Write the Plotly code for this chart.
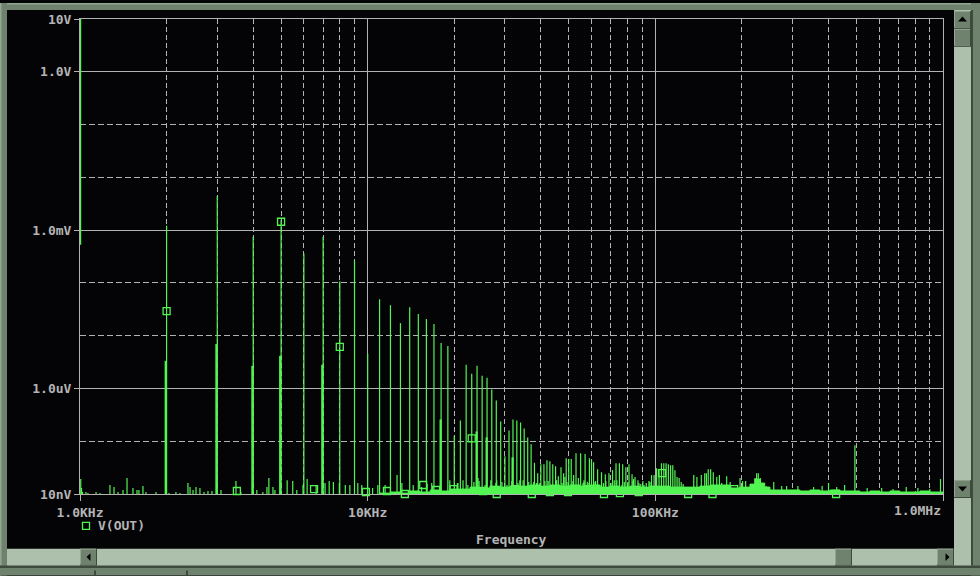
import plotly.graph_objects as go

# ---------------- data (frequency in kHz, magnitude in V) ----------------
fund_khz = [1.004]
fund_v = [12.0]
fund_base_v = [5.3e-4]

harm_khz = [2, 3, 4, 5, 6, 7, 8, 9, 10,
            11, 12, 13, 14, 15, 16, 17, 18, 19, 20,
            21, 22, 23, 24, 25, 26, 27, 28, 29, 30,
            31, 32, 33, 34, 35, 36, 37, 38, 39, 40,
            41, 42, 43, 44, 45, 46, 47, 48, 49, 50,
            51, 52, 53, 54, 55, 56, 57, 58, 59, 60,
            61, 63, 65, 67, 69, 71, 73, 75, 77, 79,
            81, 83, 85, 87, 89, 91, 93, 95, 97, 99,
            101, 103, 105, 107, 109, 111, 113, 115, 117, 119,
            121, 123, 125]
harm_v = [1.21e-3, 4.45e-3, 7.52e-4, 1.57e-3, 3.6e-4, 7.5e-4, 1.07e-4, 2.66e-4, 4.52e-6,
          4.9e-5, 3.78e-5, 1.73e-5, 3.46e-5, 2.56e-5, 2.06e-5, 1.66e-5, 7.28e-6, 6.38e-6, 1.29e-7,
          2.47e-7, 2.81e-6, 1.90e-6, 2.68e-6, 1.74e-6, 1.60e-6, 9.5e-7, 5.88e-7, 2.37e-7, 5.19e-8,
          1.60e-7, 2.58e-7, 2.47e-7, 2.26e-7, 1.75e-7, 1.18e-7, 8.73e-8, 3.9e-8, 2.48e-8, 3.67e-8,
          3.67e-8, 4.36e-8, 4.17e-8, 3.67e-8, 3.36e-8, 2.18e-8, 3.22e-8, 2.48e-8, 4.75e-8, 4.6e-8,
          4.6e-8, 2.28e-8, 5.9e-8, 2.0e-8, 5.9e-8, 1.6e-8, 5.7e-8, 1.7e-8, 4.75e-8, 4.4e-8,
          4.0e-8, 2.95e-8, 2.59e-8, 2.38e-8, 2.48e-8, 2.83e-8, 3.83e-8, 3.83e-8, 3.67e-8, 3.22e-8,
          3.67e-8, 2.38e-8, 2.09e-8, 1.83e-8, 1.54e-8, 1.41e-8, 1.61e-8, 1.76e-8, 2.28e-8, 2.28e-8,
          3.08e-8, 2.83e-8, 3.83e-8, 3.83e-8, 3.83e-8, 3.67e-8, 3.51e-8, 3.51e-8, 2.83e-8, 2.09e-8,
          2.0e-8, 1.68e-8, 1.54e-8]

shoulder_khz = [1.986, 2.98, 3.975, 4.965, 6.955, 17.93, 23.92, 25.92, 31.9]
shoulder_v = [3.33e-6, 6.97e-6, 2.68e-6, 4.14e-6, 2.81e-6, 2.58e-7, 1.53e-7, 1.18e-7, 4.96e-8]

floor_khz = [1.006, 1.012, 1.02, 1.049, 1.066, 1.137, 1.174, 1.271, 1.313, 1.356,
             1.411, 1.457, 1.528, 1.578, 1.603, 1.655, 1.696, 1.837, 2.038, 2.155,
             2.226, 2.373, 2.413, 2.471, 2.531, 2.612, 2.699, 2.785, 2.876, 3.091,
             3.485, 3.625, 4.118, 4.322, 4.466, 4.535, 4.686, 4.76, 5.25, 5.49,
             5.67, 5.96, 6.16, 6.62, 7.11, 7.35, 7.60, 7.97, 8.36, 8.67,
             9.24, 9.54, 10.4, 10.85, 11.5, 12.65, 13.15, 14.4, 15.4, 16.1,
             16.7, 19.3, 20.5, 24.2, 28.1, 33.8, 36.3, 38.6, 42.4, 45.4,
             48.5, 56.5, 62.0, 66.0, 72.0, 78.0, 84.0, 90.5,
             20.6, 21.45, 22.3, 23.4, 24.4, 25.6, 26.8, 27.9, 29.3, 30.5,
             31.7, 33.3, 34.7, 36.4, 37.8, 39.7, 41.3, 43.4, 45.1, 47.4,
             49.3, 51.7, 53.8, 56.5, 58.8, 61.7, 64.2, 67.3, 70.1, 73.5,
             76.5, 80.3, 83.6, 87.7, 91.3, 95.8]
floor_v = [1.92e-8, 1.3e-8, 1.1e-8, 1.09e-8, 1.04e-8, 1.09e-8, 1.04e-8, 1.48e-8, 1.35e-8, 1.09e-8,
           1.19e-8, 2.0e-8, 1.30e-8, 1.19e-8, 1.19e-8, 1.41e-8, 1.09e-8, 1.09e-8, 1.04e-8, 1.09e-8,
           1.04e-8, 1.61e-8, 1.35e-8, 1.19e-8, 1.35e-8, 1.30e-8, 1.09e-8, 1.14e-8, 1.14e-8, 1.19e-8,
           1.76e-8, 1.09e-8, 1.19e-8, 1.09e-8, 1.35e-8, 2.0e-8, 1.35e-8, 1.19e-8, 1.83e-8, 1.76e-8,
           1.19e-8, 1.48e-8, 1.92e-8, 1.48e-8, 1.61e-8, 1.76e-8, 1.68e-8, 1.61e-8, 1.48e-8, 1.48e-8,
           1.61e-8, 1.48e-8, 1.30e-8, 1.48e-8, 1.48e-8, 2.28e-8, 1.61e-8, 1.48e-8, 1.35e-8, 1.54e-8,
           1.61e-8, 1.83e-8, 1.61e-8, 2.0e-8, 1.83e-8, 1.83e-8, 1.68e-8, 1.61e-8, 1.76e-8, 1.83e-8,
           2.09e-8, 1.68e-8, 1.76e-8, 1.61e-8, 1.83e-8, 1.68e-8, 1.92e-8, 1.76e-8,
           1.61e-8, 1.83e-8, 1.48e-8, 1.68e-8, 1.76e-8, 1.48e-8, 1.83e-8, 1.61e-8, 1.68e-8, 1.48e-8,
           1.76e-8, 1.61e-8, 1.83e-8, 1.48e-8, 1.68e-8, 1.61e-8, 1.76e-8, 1.48e-8, 1.83e-8, 1.61e-8,
           1.68e-8, 1.76e-8, 1.48e-8, 1.83e-8, 1.61e-8, 1.68e-8, 1.48e-8, 1.76e-8, 1.61e-8, 1.83e-8,
           1.48e-8, 1.68e-8, 1.76e-8, 1.61e-8, 1.48e-8, 1.68e-8]

hf_khz = [136, 139.5, 144.5, 148.5, 150.5, 152.7, 155.7, 159, 163.5, 167,
          170, 177, 182, 197, 201, 206, 222, 225, 228, 232,
          243, 258, 275, 286, 313, 355, 380, 400, 427, 455,
          494, 545, 612, 670, 745, 818, 900, 980]
hf_v = [2.28e-8, 2.09e-8, 2.28e-8, 2.48e-8, 2.48e-8, 2.95e-8, 2.95e-8, 2.59e-8, 2.09e-8, 2.28e-8,
        1.61e-8, 2.18e-8, 1.68e-8, 2.0e-8, 1.76e-8, 1.76e-8, 2.0e-8, 2.48e-8, 2.48e-8, 2.0e-8,
        1.41e-8, 1.68e-8, 1.41e-8, 1.41e-8, 1.41e-8, 1.35e-8, 1.41e-8, 1.61e-8, 1.35e-8, 1.48e-8,
        8.36e-8, 1.30e-8, 1.30e-8, 1.24e-8, 1.35e-8, 1.30e-8, 1.24e-8, 1.92e-8]

band_khz = [11.0, 12.0, 13.0, 14.0, 15.2, 16.5, 17.8, 19.3, 20.9, 22.7,
            24.6, 26.6, 28.8, 31.2, 33.8, 36.7, 39.7, 43.0, 46.6, 50.5,
            54.7, 59.3, 64.2, 69.5, 75.3, 81.6, 88.4, 95.8, 103.8, 112.4,
            121.8, 131.9, 142.9, 154.8, 167.7, 181.7, 196.8, 213.3, 222.0, 231.0,
            240.0, 250.3, 271.1, 293.7, 318.2, 344.7, 373.4, 404.5, 438.2, 474.8,
            514.3, 557.2, 603.6, 653.9, 708.4, 767.4, 831.4, 900.6, 975.5, 1000.0]
band_v = [1.04e-8, 1.09e-8, 1.04e-8, 1.14e-8, 1.09e-8, 1.19e-8, 1.14e-8, 1.24e-8, 1.24e-8, 1.35e-8,
          1.30e-8, 1.41e-8, 1.35e-8, 1.41e-8, 1.41e-8, 1.48e-8, 1.41e-8, 1.48e-8, 1.41e-8, 1.48e-8,
          1.41e-8, 1.48e-8, 1.35e-8, 1.41e-8, 1.35e-8, 1.41e-8, 1.35e-8, 1.41e-8, 1.41e-8, 1.35e-8,
          1.35e-8, 1.35e-8, 1.41e-8, 1.48e-8, 1.48e-8, 1.30e-8, 1.35e-8, 1.54e-8, 1.92e-8, 1.61e-8,
          1.35e-8, 1.19e-8, 1.19e-8, 1.19e-8, 1.14e-8, 1.19e-8, 1.14e-8, 1.19e-8, 1.14e-8, 1.14e-8,
          1.09e-8, 1.14e-8, 1.09e-8, 1.14e-8, 1.09e-8, 1.09e-8, 1.14e-8, 1.09e-8, 1.09e-8, 1.09e-8]

marker_khz = [2.0, 3.51, 5.0, 6.51, 8.0, 9.86, 11.67, 13.47, 15.6, 17.3,
              19.9, 23.0, 25.2, 28.1, 32.5, 37.2, 43.0, 49.7, 58.4, 66.3,
              75.3, 87.6, 105.5, 130, 158, 188, 231, 425]
marker_v = [2.91e-5, 1.14e-8, 1.44e-3, 1.24e-8, 6.11e-6, 1.09e-8, 1.14e-8, 1.0e-8, 1.48e-8, 1.19e-8,
            1.24e-8, 1.13e-7, 1.14e-8, 1.0e-8, 1.24e-8, 1.0e-8, 1.09e-8, 1.09e-8, 1.24e-8, 1.0e-8,
            1.04e-8, 1.09e-8, 2.48e-8, 1.0e-8, 1.0e-8, 1.24e-8, 1.30e-8, 1.0e-8]

x_tick_hz = [1e3, 1e4, 1e5, 1e6]
x_tick_text = ["1.0KHz", "10KHz", "100KHz", ""]
x_last_label = "1.0MHz"
y_tick_v = [10, 1, 1e-3, 1e-6, 1e-8]
y_tick_text = ["10V", "1.0V", "1.0mV", "1.0uV", "10nV"]
x_minor_hz = [m * d for d in (1e3, 1e4, 1e5) for m in range(2, 10)]
y_minor_v = [0.1, 0.01, 1e-4, 1e-5, 1e-7]
trace_name = "V(OUT)"
x_title = "Frequency"

# ---------------- style ----------------
W, H = 980, 576
L, R, T, B = 80, 37, 16, 82
PW, PH = W - L - R, H - T - B
GREEN = "#52f552"
GRID = "#b2b2b2"
TXT = "#b4b4b4"
BLACK = "#040407"
FRAME = "#6f826d"
FRAME_LT = "#94a693"
FRAME_DK = "#3d4a3c"
TRACK = "#adc0ab"
FONT = dict(family="DejaVu Sans Mono", size=13, color=TXT, weight="bold")
BASE = 1e-9


def spikes(freqs_khz, vals, base):
    xs, ys = [], []
    for i, (f, v) in enumerate(zip(freqs_khz, vals)):
        b = base[i] if isinstance(base, list) else base
        xs += [f * 1e3, f * 1e3, None]
        ys += [b, v, None]
    return xs, ys


fig = go.Figure()

# noise band
bx = [f * 1e3 for f in band_khz]
fig.add_trace(go.Scatter(x=bx + [bx[-1], bx[0]], y=band_v + [BASE, BASE], mode="lines",
                         line=dict(color=GREEN, width=1, shape="hv"), fill="toself",
                         fillcolor=GREEN, hoverinfo="skip", showlegend=False))
for fk, fv, base, w in [(floor_khz, floor_v, BASE, 1.2),
                        (hf_khz, hf_v, BASE, 1.2),
                        (shoulder_khz, shoulder_v, BASE, 2.2),
                        (harm_khz, harm_v, BASE, 1.2),
                        (fund_khz, fund_v, fund_base_v, 1.4)]:
    xs, ys = spikes(fk, fv, base)
    fig.add_trace(go.Scatter(x=xs, y=ys, mode="lines", line=dict(color=GREEN, width=w),
                             hoverinfo="skip", showlegend=False, connectgaps=False))

fig.add_trace(go.Scatter(x=[f * 1e3 for f in marker_khz], y=marker_v, mode="markers",
                         marker=dict(symbol="square-open", size=7, color=GREEN,
                                     line=dict(color=GREEN, width=1.3)),
                         cliponaxis=False, name=trace_name, showlegend=False, hoverinfo="skip"))


def px(x):
    return (x - L) / PW


def py(y):
    return (T + PH - y) / PH


shapes = []


def rect(x0, y0, x1, y1, color, lc=None):
    shapes.append(dict(type="rect", xref="paper", yref="paper", x0=px(x0), x1=px(x1),
                       y0=py(y1), y1=py(y0), fillcolor=color,
                       line=dict(width=1 if lc else 0, color=lc or color), layer="above"))


def tri(pts, color="#000000"):
    path = "M " + " L ".join(f"{px(a):.5f},{py(b):.5f}" for a, b in pts) + " Z"
    shapes.append(dict(type="path", xref="paper", yref="paper", path=path,
                       fillcolor=color, line=dict(width=0), layer="above"))


def button(x0, y0, x1, y1):
    rect(x0, y0, x1, y1, FRAME_DK)
    rect(x0, y0, x1 - 1, y1 - 1, FRAME_LT)
    rect(x0 + 1, y0 + 1, x1 - 1, y1 - 1, FRAME)


# outer frame
rect(0, 0, 980, 7, FRAME)
rect(0, 0, 980, 1.5, FRAME_LT)
rect(0, 0, 7, 576, FRAME)
rect(0, 0, 1.5, 576, FRAME_LT)
rect(971, 0, 980, 576, FRAME)
rect(971, 7, 973, 566, FRAME_DK)
rect(0, 566, 980, 576, FRAME)
rect(0, 566, 980, 568.5, FRAME_DK)
rect(94, 571, 96, 576, FRAME_DK)
rect(186, 571, 188, 576, FRAME_DK)
# vertical scrollbar
rect(954, 7, 971, 566, TRACK)
button(954, 8, 971, 26)
button(954, 26, 971, 44)
button(954, 480, 971, 498)
tri([(958, 18.5), (967, 18.5), (962.5, 13.5)])
tri([(958, 486.5), (967, 486.5), (962.5, 491.5)])
# horizontal scrollbar
rect(7, 549, 954, 566, TRACK)
button(80, 549, 97, 566)
button(835, 549, 852, 566)
button(937, 549, 954, 566)
tri([(90.5, 553.5), (90.5, 561.5), (86.5, 557.5)])
tri([(945.5, 553.5), (945.5, 561.5), (949.5, 557.5)])
# legend swatch
shapes.append(dict(type="rect", xref="paper", yref="paper", x0=px(82.5), x1=px(89.5),
                   y0=py(529.5), y1=py(522.5), line=dict(color=GREEN, width=1.3),
                   fillcolor="rgba(0,0,0,0)", layer="above"))

annotations = [
    dict(text=x_last_label, x=6, xref="x", xanchor="right", y=py(511), yref="paper",
         yanchor="middle", showarrow=False, font=FONT),
    dict(text=x_title, x=0.5, xref="paper", xanchor="center", y=py(540), yref="paper",
         yanchor="middle", showarrow=False, font=FONT),
    dict(text=trace_name, x=px(96), xref="paper", xanchor="left", y=py(526), yref="paper",
         yanchor="middle", showarrow=False, font=FONT),
]

fig.update_layout(
    width=W, height=H, autosize=False,
    margin=dict(l=L, r=R, t=T, b=B, pad=0),
    paper_bgcolor=BLACK, plot_bgcolor=BLACK,
    showlegend=False, shapes=shapes, annotations=annotations,
    font=FONT,
)
fig.update_xaxes(type="log", range=[3, 6], tickmode="array", tickvals=x_tick_hz,
                 ticktext=x_tick_text, ticks="outside", ticklen=6, tickcolor=GRID, tickwidth=1,
                 showgrid=True, gridcolor=GRID, gridwidth=1, showline=True, linecolor=GRID,
                 linewidth=1, mirror=True, zeroline=False, layer="below traces", tickfont=FONT,
                 minor=dict(tickmode="array", tickvals=x_minor_hz, showgrid=True, gridcolor=GRID,
                            griddash="5px,3px", gridwidth=1, ticks=""))
fig.update_yaxes(type="log", range=[-8, 1], tickmode="array", tickvals=y_tick_v,
                 ticktext=y_tick_text, ticks="outside", ticklen=5, tickcolor=GRID, tickwidth=1,
                 showgrid=True, gridcolor=GRID, gridwidth=1, showline=True, linecolor=GRID,
                 linewidth=1, mirror=True, zeroline=False, layer="below traces", tickfont=FONT,
                 minor=dict(tickmode="array", tickvals=y_minor_v, showgrid=True, gridcolor=GRID,
                            griddash="6px,3px", gridwidth=1, ticks=""))

fig.write_html("out.html", config={"displayModeBar": False},
               post_script="document.body.style.margin='0';document.body.style.padding='0';"
                           "document.body.style.overflow='hidden';")
